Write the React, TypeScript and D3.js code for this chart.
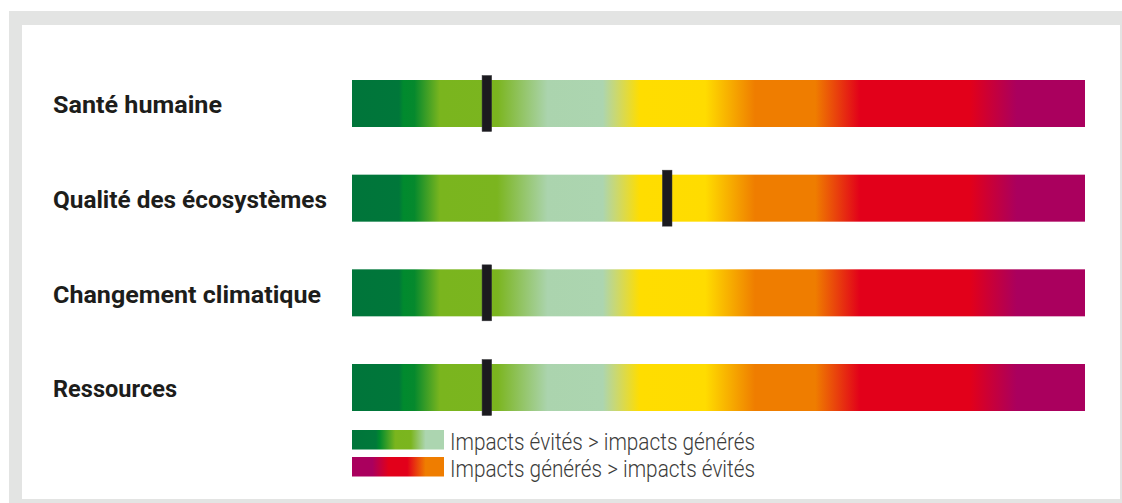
import React from "react";
import * as d3 from "d3";

const categories = [
  "Santé humaine",
  "Qualité des écosystèmes",
  "Changement climatique",
  "Ressources",
];
// position of the marker on each scale (0 = left end, 100 = right end)
const markerValues = [18.4, 43.0, 18.4, 18.4];
const legendLabels = [
  "Impacts évités > impacts générés",
  "Impacts générés > impacts évités",
];

const W = 1122;
const H = 503;

const barStops: [number, string][] = [
  [0, "#00753a"],
  [0.064, "#00773a"],
  [0.07, "#008a2e"],
  [0.085, "#05892d"],
  [0.12, "#7ab51e"],
  [0.198, "#7bb51f"],
  [0.267, "#abd4ae"],
  [0.342, "#acd5b0"],
  [0.393, "#ffdd00"],
  [0.482, "#ffdc00"],
  [0.55, "#ef7d00"],
  [0.632, "#ef7d00"],
  [0.693, "#e2001a"],
  [0.843, "#e2001a"],
  [0.907, "#aa005e"],
  [1, "#aa005e"],
];

const legendStops: [number, string][][] = [
  [
    [0, "#00753a"],
    [0.26, "#00793a"],
    [0.3, "#008a2e"],
    [0.47, "#7ab51e"],
    [0.64, "#7bb51f"],
    [0.8, "#acd5b0"],
    [1, "#acd5b0"],
  ],
  [
    [0, "#aa005e"],
    [0.22, "#aa005e"],
    [0.4, "#e2001a"],
    [0.6, "#e2001a"],
    [0.8, "#ef7d00"],
    [1, "#ef7d00"],
  ],
];

export default function App() {
  const x = d3.scaleLinear().domain([0, 100]).range([352, 1085]);
  const y = d3
    .scaleBand<string>()
    .domain(categories)
    .range([80, 411])
    .paddingInner(0.5035)
    .paddingOuter(0);
  const bh = y.bandwidth();
  const labelWidths = [169, 274, 268, 124];

  return (
    <svg
      width={W}
      height={H}
      style={{ position: "absolute", left: 0, top: 0, display: "block" }}
    >
      <defs>
        <linearGradient id="barGrad" x1="0" x2="1" y1="0" y2="0">
          {barStops.map(([o, c], i) => (
            <stop key={i} offset={o} stopColor={c} />
          ))}
        </linearGradient>
        {legendStops.map((stops, j) => (
          <linearGradient key={j} id={`legGrad${j}`} x1="0" x2="1" y1="0" y2="0">
            {stops.map(([o, c], i) => (
              <stop key={i} offset={o} stopColor={c} />
            ))}
          </linearGradient>
        ))}
      </defs>
      <rect x={0} y={0} width={W} height={H} fill="#ffffff" />
      <rect x={9} y={11} width={W - 9} height={H - 11} fill="#e3e4e3" />
      <rect x={22} y={25} width={1120 - 22} height={499 - 25} fill="#ffffff" />

      {categories.map((c, i) => {
        const y0 = y(c) as number;
        return (
          <g key={c}>
            <rect
              x={x(0)}
              y={y0}
              width={x(100) - x(0)}
              height={bh}
              fill="url(#barGrad)"
            />
            <text
              x={53}
              y={y0 + 33.3}
              fontFamily="'Liberation Sans Narrow', Roboto, sans-serif"
              fontWeight={700}
              fontSize={24.5}
              fill="#1d1d1b"
              textLength={labelWidths[i]}
              lengthAdjust="spacingAndGlyphs"
            >
              {c}
            </text>
            <rect
              x={x(markerValues[i]) - 4.8}
              y={y0 - 4.5}
              width={9.6}
              height={bh + 9}
              fill="#1b1a1f"
              stroke="#3a3a3e"
              strokeWidth={0.5}
            />
          </g>
        );
      })}

      {legendLabels.map((l, i) => {
        const ly = 430 + i * 27;
        return (
          <g key={l}>
            <rect x={352} y={ly} width={92} height={19.5} fill={`url(#legGrad${i})`} />
            <text
              x={450}
              y={ly + 20}
              fontFamily="Roboto, 'Liberation Sans Narrow', sans-serif"
              fontWeight={300}
              fontSize={23.5}
              fill="#3c3c3b"
              textLength={305}
              lengthAdjust="spacingAndGlyphs"
            >
              {l}
            </text>
          </g>
        );
      })}
    </svg>
  );
}
